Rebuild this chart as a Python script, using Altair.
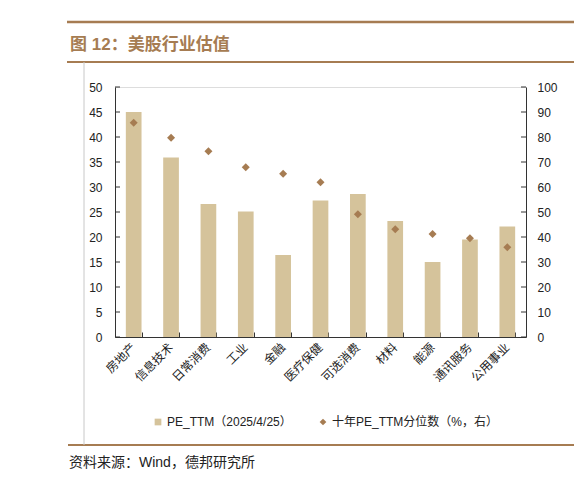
import altair as alt
import pandas as pd

# ---- data ----
categories = ["房地产", "信息技术", "日常消费", "工业", "金融", "医疗保健",
              "可选消费", "材料", "能源", "通讯服务", "公用事业"]
pe_ttm = [45.0, 35.9, 26.6, 25.1, 16.4, 27.3, 28.6, 23.2, 15.0, 19.5, 22.1]
pe_pct = [85.7, 79.7, 74.3, 67.9, 65.3, 61.9, 49.1, 43.1, 41.2, 39.5, 35.9]
left_ticks = [0, 5, 10, 15, 20, 25, 30, 35, 40, 45, 50]
right_ticks = [0, 10, 20, 30, 40, 50, 60, 70, 80, 90, 100]

series_bar = "PE_TTM（2025/4/25）"
series_pt = "十年PE_TTM分位数（%，右）"
title_text = "图 12：美股行业估值"
source_text = "资料来源：Wind，德邦研究所"

BAR = "#d5c39b"
BROWN = "#a67c52"
TXT = "#222222"
AX = "#333333"
LATIN = "Liberation Sans, Noto Sans CJK SC"
CJK = "Noto Sans CJK SC"

W, H = 411, 250

df = pd.DataFrame({"cat": categories, "pe": pe_ttm, "pct": pe_pct})

x_scale = alt.Scale(domain=categories, paddingInner=0.58, paddingOuter=0.29)
color_scale = alt.Scale(domain=[series_bar, series_pt], range=[BAR, BROWN])
shape_scale = alt.Scale(domain=[series_bar, series_pt], range=["square", "diamond"])

legend = alt.Legend(
    title=None, orient="none", legendX=37, legendY=329, direction="horizontal",
    symbolSize=45, symbolStrokeWidth=0, labelFont=LATIN, labelFontSize=12,
    labelColor=TXT, labelOffset=3, columnPadding=25, padding=0, labelLimit=0,
)

bars = alt.Chart(df).transform_calculate(series=f"'{series_bar}'").mark_bar(color=BAR).encode(
    x=alt.X("cat:N", scale=x_scale, sort=categories, title=None,
            axis=alt.Axis(orient="bottom", labelAngle=-45, labelAlign="right",
                          labelBaseline="middle", labelFont=CJK, labelFontSize=12,
                          labelColor=TXT, labelPadding=8, ticks=False,
                          domainColor=AX, domainWidth=1)),
    y=alt.Y("pe:Q", scale=alt.Scale(domain=[0, 50], nice=False), title=None,
            axis=alt.Axis(orient="left", values=left_ticks, ticks=False, grid=False,
                          labelFont=LATIN, labelFontSize=12, labelColor=TXT,
                          labelPadding=13, domainColor=AX, domainWidth=1)),
    color=alt.Color("series:N", scale=color_scale, legend=legend),
)

points = alt.Chart(df).transform_calculate(series=f"'{series_pt}'").mark_point(
    filled=True, size=64, opacity=1).encode(
    x=alt.X("cat:N", scale=x_scale, sort=categories, title=None,
            axis=alt.Axis(orient="top", offset=-H, labels=False, domain=False,
                          ticks=True, tickBand="extent", tickSize=5,
                          tickColor=AX, tickWidth=1, grid=False)),
    y=alt.Y("pct:Q", scale=alt.Scale(domain=[0, 100], nice=False), title=None,
            axis=alt.Axis(orient="right", values=right_ticks, ticks=False, grid=False,
                          labelFont=LATIN, labelFontSize=12, labelColor=TXT,
                          labelPadding=11, domainColor=AX, domainWidth=1)),
    color=alt.Color("series:N", scale=color_scale, legend=legend),
    shape=alt.Shape("series:N", scale=shape_scale, legend=legend),
)

lt = alt.Chart(pd.DataFrame({"v": left_ticks})).mark_rule(color=AX, strokeWidth=1).encode(
    y=alt.Y("v:Q", scale=alt.Scale(domain=[0, 50], nice=False), axis=None),
    x=alt.value(0), x2=alt.value(5),
)
rt = alt.Chart(pd.DataFrame({"v": right_ticks})).mark_rule(color=AX, strokeWidth=1).encode(
    y=alt.Y("v:Q", scale=alt.Scale(domain=[0, 100], nice=False), axis=None),
    x=alt.value(W - 5), x2=alt.value(W),
)

one = pd.DataFrame({"a": [0]})
top_line = alt.Chart(one).mark_rule(color=BROWN, strokeWidth=2.5).encode(
    x=alt.value(-48), x2=alt.value(470), y=alt.value(-65))
title_line = alt.Chart(one).mark_rule(color=BROWN, strokeWidth=2).encode(
    x=alt.value(-48), x2=alt.value(463), y=alt.value(-25))
bottom_line = alt.Chart(one).mark_rule(color=BROWN, strokeWidth=2).encode(
    x=alt.value(-47), x2=alt.value(470), y=alt.value(358))
side_line = alt.Chart(one).mark_rule(color="#c8c8c8", strokeWidth=1).encode(
    x=alt.value(-31), y=alt.value(-25), y2=alt.value(358))

title = alt.Chart(pd.DataFrame({"t": [title_text]})).mark_text(
    align="left", baseline="middle", font=LATIN, fontSize=17, fontWeight="bold",
    color=BROWN).encode(text="t:N", x=alt.value(-45), y=alt.value(-42.5))
source = alt.Chart(pd.DataFrame({"t": [source_text]})).mark_text(
    align="left", baseline="middle", font=LATIN, fontSize=14, color=TXT).encode(
    text="t:N", x=alt.value(-46), y=alt.value(376))

chart = alt.layer(
    bars, points, lt, rt, top_line, title_line, bottom_line, side_line, title, source
).resolve_scale(y="independent").resolve_axis(x="independent", y="independent").properties(
    width=W, height=H, autosize="none",
    padding={"left": 107, "top": 79, "right": 48, "bottom": 137},
).configure_view(stroke=None).configure(background="white")

chart.save("out.html", embed_options={"renderer": "svg", "actions": False})
